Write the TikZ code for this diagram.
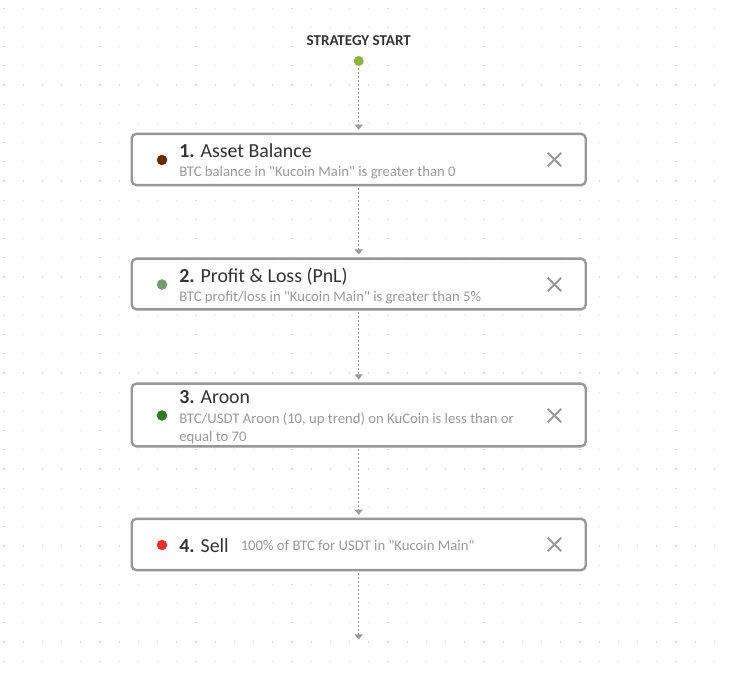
\documentclass[tikz,border=0pt]{standalone}
\usepackage{fontspec}
\setmainfont{Carlito}[Ligatures=TeXOff]
\usetikzlibrary{shapes.misc, arrows.meta, positioning}
\definecolor{boxgray}{HTML}{989898}
\definecolor{subgray}{HTML}{9A9A9A}
\definecolor{titlegray}{HTML}{333333}
\definecolor{griddot}{HTML}{FAC8DA}

\begin{document}
\begin{tikzpicture}[
    x=0.75pt, y=-0.75pt,
    card/.style={rectangle, rounded corners=3.5pt, draw=boxgray, line width=1.8pt, fill=white, minimum width=340.5pt, inner sep=0pt},
    bullet/.style={circle, minimum size=7.9pt, inner sep=0pt},
    title/.style={anchor=base west, inner sep=0pt, text=titlegray, font=\fontsize{14.9pt}{18pt}\selectfont},
    sub/.style={anchor=base west, inner sep=0pt, text=subgray, font=\fontsize{11.03pt}{13.5pt}\selectfont},
    closer/.style={cross out, draw=boxgray, line width=1.5pt, minimum size=8.6pt, inner sep=0pt},
    arrow/.style={-{Triangle[length=3.8pt,width=6pt]}, draw=subgray, line width=0.7pt, dash pattern=on 1.5pt off 1.5pt, shorten >=2.2pt, shorten <=1pt}
]
    \useasboundingbox (0,0) rectangle (732,673);
    \fill[white] (0,0) rectangle (732,673);

    % dotted canvas
    \foreach \i in {0,...,37}
        \foreach \j in {0,...,34}
            \fill[griddot] ({4+19.2*\i-0.6},{8.3+19.2*\j-0.6}) rectangle ++(1.2,1.2);

    \node[inner sep=0pt, anchor=base, text=titlegray, font=\fontsize{11.3pt}{12pt}\selectfont\bfseries] (start) at (358.7,45.6) {STRATEGY START};
    \node[bullet, fill={rgb,255:red,141;green,179;blue,62}, minimum size=7.5pt] (s0) at (358.7,61) {};

    \node[card, minimum height=38.5pt] (c1) at (358.7,159.5) {};
    \node[card, minimum height=38pt] (c2) at (358.7,284) {};
    \node[card, minimum height=47pt] (c3) at (358.7,415) {};
    \node[card, minimum height=38.5pt] (c4) at (358.7,544.5) {};
    \coordinate (endpt) at (358.7,639.5);

    \node[bullet, fill={rgb,255:red,107;green,44;blue,0}] (b1) at (162,160) {};
    \node[bullet, fill={rgb,255:red,115;green,156;blue,110}] (b2) at (162,284.5) {};
    \node[bullet, fill={rgb,255:red,42;green,125;blue,34}] (b3) at (162,415.5) {};
    \node[bullet, fill={rgb,255:red,229;green,48;blue,48}] (b4) at (162,545) {};

    \node[title] (t1) at (179,157.5) {\textbf{1.} Asset Balance};
    \node[sub] (d1) at (179,176.8) {BTC balance in "Kucoin Main" is greater than 0};
    \node[title] (t2) at (179,282.5) {\textbf{2.} Profit \& Loss (PnL)};
    \node[sub] (d2) at (179,301.8) {BTC profit/loss in "Kucoin Main" is greater than 5\%};
    \node[title] (t3) at (179,403.5) {\textbf{3.} Aroon};
    \node[sub] (d3) at (179,423.8) {BTC/USDT Aroon (10, up trend) on KuCoin is less than or};
    \node[sub] (e3) at (179,441.3) {equal to 70};
    \node[title] (t4) at (179,552) {\textbf{4.} Sell};
    \node[sub] (d4) at (240.5,550.3) {100\% of BTC for USDT in "Kucoin Main"};

    \node[closer] (x1) at (554.5,159.5) {};
    \node[closer] (x2) at (554.5,284.5) {};
    \node[closer] (x3) at (554.5,415.5) {};
    \node[closer] (x4) at (554.5,544.5) {};

    \draw[arrow] (s0) -- (c1);
    \draw[arrow] (c1) -- (c2);
    \draw[arrow] (c2) -- (c3);
    \draw[arrow] (c3) -- (c4);
    \draw[arrow, shorten >=0pt] (c4) -- (endpt);
\end{tikzpicture}
\end{document}
